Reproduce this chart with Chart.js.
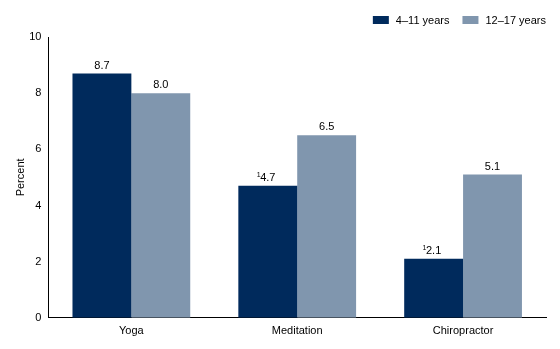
<!DOCTYPE html>
<html>
<head>
<meta charset="utf-8">
<script src="https://cdn.jsdelivr.net/npm/chart.js@4"></script>
<style>
  html, body { margin: 0; padding: 0; background: #fff; }
  #wrap { width: 560px; height: 349px; position: relative; }
</style>
</head>
<body>
<div id="wrap"><canvas id="c" width="560" height="349"></canvas></div>
<script>
const categories = ['Yoga', 'Meditation', 'Chiropractor'];
const seriesNames = ['4\u201311 years', '12\u201317 years'];
const children = [8.7, 4.7, 2.1];
const adolescents = [8.0, 6.5, 5.1];
// estimates flagged with footnote 1 (relative standard error note)
const childrenFlags = [false, true, true];
const adolescentFlags = [false, false, false];
const yTicks = [0, 2, 4, 6, 8, 10];
const seriesColors = ['#002a5c', '#8096ae'];

const FONT = '"Liberation Sans", Arial, sans-serif';

// values above each bar, with a superscript footnote marker where flagged
const valueLabels = {
  id: 'valueLabels',
  afterDatasetsDraw(chart) {
    const ctx = chart.ctx;
    const flags = [childrenFlags, adolescentFlags];
    ctx.save();
    ctx.fillStyle = '#000';
    ctx.textBaseline = 'alphabetic';
    chart.data.datasets.forEach((ds, di) => {
      const meta = chart.getDatasetMeta(di);
      meta.data.forEach((bar, i) => {
        const txt = ds.data[i].toFixed(1);
        ctx.font = '11px ' + FONT;
        const w = ctx.measureText(txt).width;
        const x = bar.x - w / 2;
        const y = bar.y - 5;
        ctx.textAlign = 'left';
        ctx.fillText(txt, x, y);
        if (flags[di][i]) {
          ctx.font = '7px ' + FONT;
          ctx.textAlign = 'right';
          ctx.fillText('1', x + 0.5, y - 4);
        }
      });
    });
    ctx.restore();
  }
};

// legend row in the top right corner
const topLegend = {
  id: 'topLegend',
  afterDraw(chart) {
    const ctx = chart.ctx;
    const right = chart.chartArea.right;
    ctx.save();
    ctx.font = '11px ' + FONT;
    ctx.textBaseline = 'middle';
    ctx.textAlign = 'left';
    const items = chart.data.datasets.map(d => ({ label: d.label, color: d.backgroundColor }));
    const boxW = 16, boxH = 8, gap = 7, itemGap = 13;
    let total = 0;
    items.forEach((it, k) => {
      it.w = ctx.measureText(it.label).width;
      total += boxW + gap + it.w + (k ? itemGap : 0);
    });
    let x = right - total;
    const cy = 20;
    items.forEach((it, k) => {
      if (k) x += itemGap;
      ctx.fillStyle = it.color;
      ctx.fillRect(x, cy - boxH / 2, boxW, boxH);
      x += boxW + gap;
      ctx.fillStyle = '#000';
      ctx.fillText(it.label, x, cy + 0.5);
      x += it.w;
    });
    ctx.restore();
  }
};

new Chart(document.getElementById('c'), {
  type: 'bar',
  data: {
    labels: categories,
    datasets: [
      { label: seriesNames[0], data: children, backgroundColor: seriesColors[0], borderWidth: 0,
        categoryPercentage: 0.71, barPercentage: 1.0 },
      { label: seriesNames[1], data: adolescents, backgroundColor: seriesColors[1], borderWidth: 0,
        categoryPercentage: 0.71, barPercentage: 1.0 }
    ]
  },
  options: {
    responsive: false,
    animation: false,
    devicePixelRatio: 1,
    layout: { padding: { top: 37, right: 14, bottom: 4, left: 14 } },
    plugins: {
      legend: { display: false },
      tooltip: { enabled: false }
    },
    scales: {
      x: {
        grid: { display: false, drawTicks: false },
        border: { color: '#000', width: 1 },
        ticks: { color: '#000', font: { family: FONT, size: 11 }, padding: 7 }
      },
      y: {
        min: 0, max: 10,
        afterBuildTicks(axis) { axis.ticks = yTicks.map(v => ({ value: v })); },
        grid: { display: false, drawOnChartArea: false, drawTicks: true, tickLength: 5, color: '#000' },
        border: { color: '#000', width: 1 },
        ticks: { color: '#000', font: { family: FONT, size: 11 }, padding: 2 },
        title: { display: true, text: 'Percent', color: '#000', font: { family: FONT, size: 11 }, padding: { top: 0, bottom: 0 } }
      }
    }
  },
  plugins: [valueLabels, topLegend]
});
</script>
</body>
</html>
